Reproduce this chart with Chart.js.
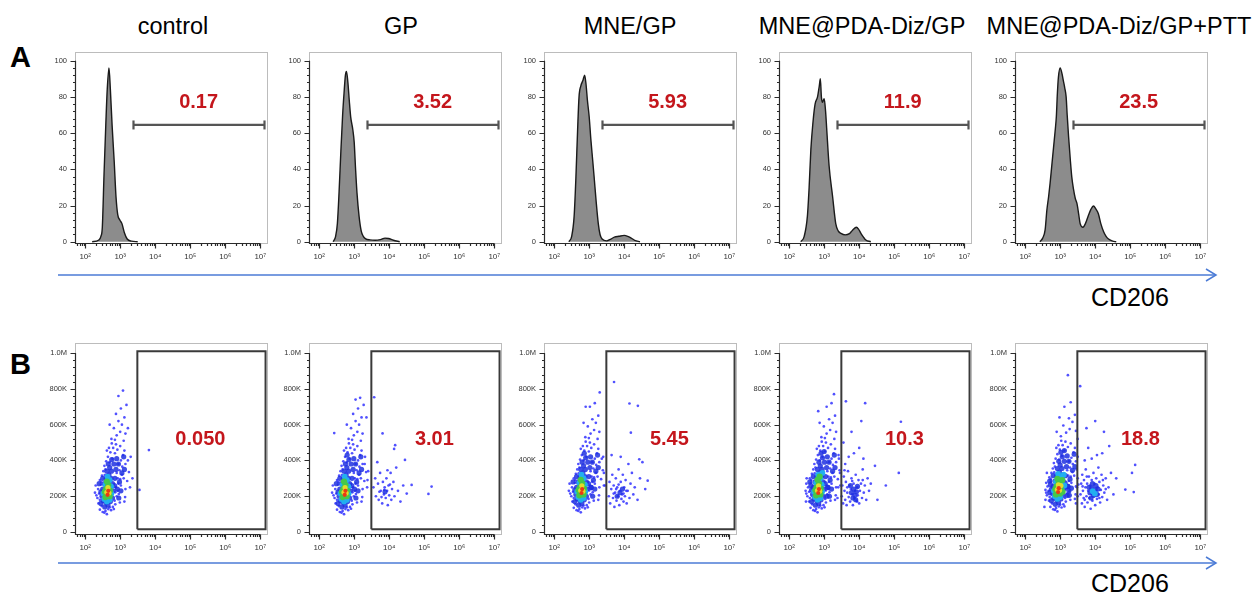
<!DOCTYPE html>
<html>
<head>
<meta charset="utf-8">
<script src="https://cdn.jsdelivr.net/npm/chart.js@4.4.1/dist/chart.umd.min.js"></script>
<style>
  body { margin: 0; background: #fff; width: 1252px; height: 595px; position: relative; overflow: hidden; }
  canvas { position: absolute; }
  svg { position: absolute; left: 0; top: 0; }
</style>
</head>
<body>
<svg id="deco" width="1252" height="595" font-family="Liberation Sans, Arial, sans-serif">
  <text x="10" y="67" font-size="29" font-weight="bold">A</text>
  <text x="10" y="374" font-size="29" font-weight="bold">B</text>
  <line x1="58" y1="275" x2="1215" y2="275" stroke="#4b7bd6" stroke-width="1.5"/>
  <polyline points="1206,269 1216,275 1206,281" fill="none" stroke="#4b7bd6" stroke-width="1.5"/>
  <line x1="58" y1="563" x2="1215" y2="563" stroke="#4b7bd6" stroke-width="1.5"/>
  <polyline points="1206,557 1216,563 1206,569" fill="none" stroke="#4b7bd6" stroke-width="1.5"/>
  <text x="1091" y="306" font-size="25">CD206</text>
  <text x="1091" y="592" font-size="25">CD206</text>
</svg>
<script>
// group names and gate percentages
const groups = ['control', 'GP', 'MNE/GP', 'MNE@PDA-Diz/GP', 'MNE@PDA-Diz/GP+PTT'];
const histGatePct = ['0.17', '3.52', '5.93', '11.9', '23.5'];
const dotGatePct = ['0.050', '3.01', '5.45', '10.3', '18.8'];

// axis ticks: log10 decades for CD206, % of max for histograms, K events for dot plots
const logTicks = [2, 3, 4, 5, 6, 7];
const histTicks = [0, 20, 40, 60, 80, 100];
const dotTicks = [0, 200, 400, 600, 800, 1000];

// gates: [log10 from, log10 to, level] / [log10 from, log10 to, y from, y to]
const histGate = [3.38, 7.12, 64.5];
const dotGate = [3.49, 7.15, 15, 1010];

// histograms: [log10 CD206, % of max]
const histControl = [[2.2,0],[2.38,0.8],[2.45,3],[2.49,8],[2.54,38],[2.59,65],[2.63,84],[2.68,96],[2.72,84],[2.77,64],[2.83,44],[2.88,25],[2.93,15],[2.99,12],[3.05,10],[3.12,5],[3.2,1.5],[3.32,0.3],[3.5,0]];
const histGP = [[2.4,0],[2.47,3],[2.52,10],[2.57,28],[2.62,50],[2.67,70],[2.71,82],[2.75,92],[2.78,94],[2.82,88],[2.86,78],[2.9,69],[2.96,62],[3.0,55],[3.04,40],[3.08,27],[3.14,14],[3.2,6],[3.26,3],[3.33,1.6],[3.45,1],[3.6,0.8],[3.75,1.2],[3.88,2],[3.98,1.8],[4.12,0.8],[4.3,0]];
const histMNE = [[2.42,0],[2.5,3],[2.57,14],[2.62,35],[2.67,62],[2.71,80],[2.76,86],[2.82,89],[2.87,92],[2.91,87],[2.95,78],[3.0,69],[3.05,56],[3.1,45],[3.14,36],[3.2,22],[3.26,10],[3.31,4],[3.37,1.5],[3.5,0.5],[3.62,1.5],[3.72,2.5],[3.85,3],[4.0,3.5],[4.1,3],[4.2,2],[4.3,0.8],[4.45,0]];
const histPDA = [[2.33,0],[2.43,3],[2.52,14],[2.57,30],[2.62,51],[2.68,66],[2.74,76],[2.81,80],[2.86,86],[2.89,90],[2.92,80],[2.95,77],[3.0,79],[3.04,72],[3.07,63],[3.14,42],[3.24,25],[3.33,10],[3.4,6],[3.48,4.6],[3.6,3.8],[3.72,4.5],[3.81,6.4],[3.92,8],[3.98,7],[4.05,4.6],[4.19,1],[4.33,0]];
const histPTT = [[2.42,0],[2.5,2],[2.57,6.5],[2.62,17.5],[2.67,25],[2.71,32],[2.76,42],[2.81,52],[2.86,62],[2.89,69],[2.92,82],[2.95,91],[3.0,96],[3.05,93],[3.09,89],[3.13,85],[3.17,80],[3.2,70],[3.24,58],[3.29,45],[3.33,36],[3.38,29],[3.43,24],[3.48,21],[3.53,15],[3.57,10],[3.65,8],[3.72,10],[3.81,14.7],[3.88,18],[3.95,19.7],[4.02,18],[4.09,15.5],[4.16,10],[4.24,5.5],[4.31,3],[4.38,1.5],[4.5,0.3],[4.6,0]];
const histograms = [histControl, histGP, histMNE, histPDA, histPTT];

// dot plots: [log10 CD206, events (K)], one list per density level and group
const blueDots = [
  [[2.42,125],[2.50,112],[2.58,118],[2.66,128],[2.74,122],[2.47,145],[2.55,108],[2.79,140],[2.38,160],[2.86,155],[2.62,100],[2.70,138],[2.82,128],[2.35,190],[2.40,215],[2.37,240],[2.84,175],[2.90,200],[2.93,230],[2.88,250],[2.45,265],[2.32,205],[2.96,212],[2.86,222],[2.42,180],[2.42,290],[2.48,315],[2.52,340],[2.95,270],[3.0,295],[3.05,320],[2.98,345],[3.10,300],[2.46,280],[2.90,330],[3.02,260],[2.56,318],[2.93,300],[2.55,370],[2.60,395],[2.65,420],[2.72,445],[2.80,470],[2.88,490],[2.95,380],[3.02,400],[3.08,430],[3.12,455],[2.92,460],[2.70,390],[2.78,410],[2.85,440],[3.15,380],[2.62,455],[3.0,480],[2.58,350],[3.06,365],[2.68,470],[2.76,495],[2.75,520],[2.90,540],[3.0,560],[2.82,580],[3.05,600],[2.95,620],[3.12,640],[2.88,660],[3.02,690],[3.18,710],[2.95,760],[3.08,790],[3.15,550],[2.70,600],[3.22,580],[2.85,515],[3.1,510],[3.55,235],[3.82,458],[3.3,420],[3.35,300],
   [3.15,240],[3.2,285],[3.25,335],[3.14,195],[3.28,250],[3.22,400],[2.3,260],[2.28,220],[3.12,170],[2.99,165]],
  [[2.51,125],[2.59,112],[2.67,118],[2.75,128],[2.83,122],[2.56,145],[2.64,108],[2.88,140],[2.47,160],[2.95,155],[2.71,100],[2.79,138],[2.91,130],[2.44,190],[2.49,215],[2.46,240],[2.93,175],[2.99,200],[3.02,230],[2.97,250],[2.54,265],[2.41,205],[3.05,212],[2.95,222],[2.51,180],[2.51,290],[2.57,315],[2.61,340],[3.04,270],[3.09,295],[3.14,320],[3.07,345],[3.19,300],[2.55,280],[2.99,330],[3.11,260],[2.65,318],[3.02,300],[2.64,370],[2.69,395],[2.74,420],[2.81,445],[2.89,470],[2.97,490],[3.04,380],[3.11,400],[3.17,430],[3.21,455],[3.01,460],[2.79,390],[2.87,410],[2.94,440],[3.24,380],[2.71,455],[3.09,480],[2.67,350],[3.15,365],[2.77,470],[2.85,495],[2.84,520],[2.99,540],[3.09,560],[2.91,580],[3.14,600],[3.04,620],[3.21,640],[2.97,660],[3.11,690],[3.27,710],[3.04,740],[3.17,750],[3.24,550],[2.79,600],[2.43,553],[2.94,515],[3.19,510],[3.35,640],[3.3,380],[3.38,290],[3.4,340],
   [3.24,240],[3.29,285],[3.34,335],[3.23,195],[3.37,250],[3.31,420],[2.39,260],[2.37,220],[3.21,170],[3.08,165],
   [3.55,250],[3.6,300],[3.62,200],[3.68,270],[3.7,180],[3.74,330],[3.76,230],[3.8,160],[3.82,280],[3.85,210],[3.87,250],[3.9,190],[3.92,300],[3.94,230],[3.96,150],[3.98,260],[4.0,205],[4.04,330],[4.06,180],[4.08,240],[4.12,280],[4.15,200],[4.2,360],[4.25,230],[4.32,170],[4.4,260],[4.45,403],[4.64,263],[4.14,464],[4.17,485],[3.81,551],[3.57,753],[5.21,254],[5.12,213],[3.66,390],[3.95,345],[4.5,215],[3.72,225],[3.86,235],[4.02,265],[3.78,195]],
  [[2.56,135],[2.64,122],[2.72,128],[2.80,138],[2.88,132],[2.61,155],[2.69,118],[2.93,150],[2.52,170],[3.0,165],[2.76,110],[2.84,148],[2.96,138],[2.49,200],[2.54,225],[2.51,250],[2.98,185],[3.04,210],[3.07,240],[3.02,260],[2.59,275],[2.46,215],[3.10,222],[3.0,232],[2.56,190],[2.56,300],[2.62,325],[2.66,350],[3.09,280],[3.14,305],[3.19,330],[3.12,355],[3.24,310],[2.60,290],[3.04,340],[3.16,270],[2.70,328],[3.07,310],[2.69,380],[2.74,405],[2.79,430],[2.86,455],[2.94,480],[3.02,500],[3.09,390],[3.16,410],[3.22,440],[3.26,465],[3.06,470],[2.84,400],[2.92,420],[2.99,450],[3.29,390],[2.76,465],[3.14,490],[2.72,360],[3.20,375],[2.82,480],[2.90,505],[2.89,530],[3.04,550],[3.14,570],[2.96,590],[3.19,610],[3.09,630],[3.26,650],[3.02,700],[3.16,720],[3.30,780],[2.90,700],[3.29,560],[2.84,610],[2.99,525],[3.24,520],[3.4,420],[3.42,330],[3.45,260],
   [3.29,250],[3.34,295],[3.39,345],[3.28,205],[3.42,260],[3.36,410],[2.44,270],[2.42,230],[3.26,180],[3.13,175],
   [3.56,200],[3.58,280],[3.6,160],[3.63,240],[3.66,320],[3.68,190],[3.7,260],[3.72,140],[3.74,220],[3.76,300],[3.78,175],[3.8,250],[3.82,200],[3.84,350],[3.86,150],[3.88,230],[3.9,280],[3.92,185],[3.94,210],[3.96,320],[3.98,170],[4.0,250],[4.02,200],[4.04,290],[4.07,160],[4.1,230],[4.12,380],[4.15,190],[4.18,270],[4.22,330],[4.26,210],[4.3,250],[4.38,180],[4.45,300],[4.52,390],[4.6,240],[4.67,287],[4.15,718],[4.39,705],[3.71,838],[3.64,430],[4.19,555],[4.43,406],[3.9,420],[3.7,215],[3.84,265],[3.98,215],[4.06,230],[3.77,240]],
  [[2.61,135],[2.69,122],[2.77,128],[2.85,138],[2.93,132],[2.66,155],[2.74,118],[2.98,150],[2.57,170],[3.05,165],[2.81,110],[2.89,148],[3.01,138],[2.52,200],[2.57,225],[2.54,250],[3.03,185],[3.09,210],[3.12,240],[3.07,260],[2.62,275],[2.49,215],[3.15,222],[3.05,232],[2.59,190],[2.59,300],[2.65,325],[2.69,350],[3.14,280],[3.19,305],[3.24,330],[3.17,355],[3.29,310],[2.63,290],[3.09,340],[3.21,270],[2.73,328],[3.12,310],[2.72,380],[2.77,405],[2.82,430],[2.89,455],[2.97,480],[3.05,500],[3.14,390],[3.21,410],[3.27,440],[3.31,465],[3.11,470],[2.87,400],[2.95,420],[3.02,450],[3.34,390],[2.79,465],[3.19,490],[2.75,360],[3.25,375],[2.85,480],[2.93,505],[2.92,530],[3.07,550],[3.17,570],[2.99,590],[3.24,610],[3.14,630],[3.31,650],[3.07,700],[3.21,720],[3.28,770],[2.83,675],[3.34,560],[2.87,610],[3.02,525],[3.29,520],[3.42,410],[3.45,330],[3.4,250],[3.38,190],[2.5,300],[2.48,170],
   [3.34,250],[3.39,295],[3.44,345],[3.33,205],[3.46,260],[3.41,430],[2.49,270],[2.47,230],[3.31,180],[3.18,175],
   [3.5,200],[3.52,260],[3.54,160],[3.56,310],[3.58,230],[3.6,180],[3.62,280],[3.64,150],[3.66,220],[3.68,340],[3.7,195],[3.72,260],[3.74,170],[3.76,240],[3.78,300],[3.8,210],[3.82,150],[3.84,270],[3.86,190],[3.88,230],[3.9,320],[3.92,175],[3.94,250],[3.96,205],[3.98,290],[4.0,160],[4.02,230],[4.05,270],[4.08,190],[4.1,350],[4.13,220],[4.16,260],[4.2,180],[4.24,300],[4.28,230],[4.33,270],[3.7,420],[3.85,440],[4.0,470],[3.6,380],[4.12,410],[3.62,730],[4.17,720],[3.78,560],[4.06,620],[4.76,260],[5.13,330],[5.19,616],[4.52,180],[4.45,370],[3.55,500],[3.66,250],[3.8,285],[3.94,170],[4.1,290],[3.58,345]],
  [[2.72,140],[2.80,127],[2.88,133],[2.96,143],[3.04,137],[2.77,160],[2.85,123],[3.09,155],[2.68,175],[3.16,170],[2.92,115],[3.0,153],[3.12,143],[2.62,205],[2.67,230],[2.64,255],[3.14,190],[3.2,215],[3.23,245],[3.18,265],[2.73,280],[2.6,220],[3.26,227],[3.16,237],[2.7,195],[2.69,305],[2.75,330],[2.79,355],[3.25,285],[3.3,310],[3.35,335],[3.28,360],[3.4,315],[2.73,295],[3.2,345],[3.32,275],[2.83,333],[3.23,315],[2.82,385],[2.87,410],[2.92,435],[2.99,460],[3.07,485],[3.15,505],[3.25,395],[3.32,415],[3.38,445],[3.42,470],[3.22,475],[2.97,405],[3.05,425],[3.12,455],[3.45,395],[2.89,470],[3.3,495],[2.85,365],[3.36,380],[2.95,485],[3.03,510],[3.02,535],[3.17,555],[3.27,575],[3.09,595],[3.35,615],[3.25,635],[3.42,655],[3.12,700],[3.3,725],[3.22,876],[3.57,815],[2.98,640],[3.45,565],[3.5,520],[2.58,180],[2.55,140],[2.62,330],[3.48,250],[3.5,200],[3.45,160],[2.9,560],
   [3.45,255],[3.5,300],[3.47,350],[3.44,210],[3.52,265],[3.5,420],[2.6,275],[2.58,235],[3.42,185],[3.29,180],
   [3.58,210],[3.6,270],[3.62,160],[3.63,320],[3.65,230],[3.67,190],[3.68,290],[3.7,140],[3.72,250],[3.73,350],[3.75,200],[3.77,270],[3.78,165],[3.8,230],[3.82,310],[3.83,190],[3.85,260],[3.87,130],[3.88,215],[3.9,290],[3.92,175],[3.93,240],[3.95,330],[3.97,200],[3.98,270],[4.0,150],[4.02,225],[4.03,300],[4.05,185],[4.07,250],[4.09,360],[4.1,210],[4.12,280],[4.14,165],[4.16,235],[4.18,320],[4.2,195],[4.23,260],[4.26,220],[4.3,300],[4.34,180],[4.38,250],[4.45,330],[4.52,210],[3.7,400],[3.9,410],[4.05,430],[3.8,470],[4.2,440],[3.75,580],[4.0,620],[4.25,560],[4.4,480],[4.86,237],[5.05,330],[5.1,223],[5.14,375],[4.6,300],[3.64,255],[3.76,310],[4.12,190],[4.22,290],[3.7,180],[4.3,240]]
];
const denseDots = [
  [[2.45,160],[2.52,175],[2.60,165],[2.72,170],[2.78,190],[2.80,230],[2.78,270],[2.74,300],[2.68,320],[2.60,300],[2.55,270],[2.50,240],[2.48,200],[2.62,340],[2.75,340],[2.85,300],[2.70,360],[2.82,380],[2.65,150],[2.56,140],[2.84,260],[2.50,300],[2.66,380],[2.76,405],[2.88,350],
   [2.92,240],[2.98,280],[3.05,330],[2.95,380],[3.1,420],[2.9,410],[3.02,230],[3.12,350],[2.96,190],[2.45,225],[2.4,270]],
  [[2.54,160],[2.61,175],[2.69,165],[2.81,170],[2.87,190],[2.89,230],[2.87,270],[2.83,300],[2.77,320],[2.69,300],[2.64,270],[2.59,240],[2.57,200],[2.71,340],[2.84,340],[2.94,300],[2.79,360],[2.91,380],[2.74,150],[2.65,140],[2.93,260],[2.59,300],[2.75,380],[2.85,405],[2.97,350],[2.80,430],[3.88,225],
   [3.01,240],[3.07,280],[3.14,330],[3.04,380],[3.19,420],[2.99,410],[3.11,230],[3.21,350],[3.05,190],[2.54,225],[2.49,270]],
  [[2.59,170],[2.66,185],[2.74,175],[2.86,180],[2.92,200],[2.94,240],[2.92,280],[2.88,310],[2.82,330],[2.74,310],[2.69,280],[2.64,250],[2.62,210],[2.76,350],[2.89,350],[2.99,310],[2.84,370],[2.96,390],[2.79,160],[2.70,150],[2.98,270],[2.64,310],[2.80,390],[2.90,415],[3.02,360],[2.86,440],[3.05,250],[3.88,220],[3.95,240],[3.8,200],
   [3.06,250],[3.12,290],[3.19,340],[3.09,390],[3.24,430],[3.04,420],[3.16,240],[3.26,360],[3.1,200],[2.59,235],[2.54,280]],
  [[2.64,170],[2.71,185],[2.79,175],[2.91,180],[2.97,200],[2.99,240],[2.97,280],[2.93,310],[2.87,330],[2.79,310],[2.74,280],[2.69,250],[2.67,210],[2.81,350],[2.94,350],[3.04,310],[2.89,370],[3.01,390],[2.84,160],[2.75,150],[3.03,270],[2.69,310],[2.85,390],[2.95,415],[3.07,360],[2.91,440],[3.1,250],[3.08,200],[2.62,260],[3.0,450],[3.78,220],[3.84,240],[3.88,205],[3.92,225],[3.82,190],[3.95,255],[3.75,260],[3.9,180],
   [3.11,250],[3.17,290],[3.24,340],[3.14,390],[3.29,430],[3.09,420],[3.21,240],[3.31,360],[3.15,200],[2.64,235],[2.59,280]],
  [[2.75,175],[2.82,190],[2.9,180],[3.02,185],[3.08,205],[3.1,245],[3.08,285],[3.04,315],[2.98,335],[2.9,315],[2.85,285],[2.8,255],[2.78,215],[2.92,355],[3.05,355],[3.15,315],[3.0,375],[3.12,395],[2.95,165],[2.86,155],[3.14,275],[2.8,315],[2.96,395],[3.06,420],[3.18,365],[3.02,445],[3.22,255],[3.2,205],[2.72,265],[3.12,455],[3.25,230],[2.7,220],[3.85,220],[3.9,245],[3.95,205],[4.0,235],[3.92,270],[4.05,210],[3.88,190],[4.02,260],[3.98,225],[4.08,240],[3.82,250],
   [3.22,255],[3.28,295],[3.35,345],[3.25,395],[3.4,435],[3.2,425],[3.32,245],[3.42,365],[3.26,205],[2.75,240],[2.7,285]]
];
const cyanDots = [
  [[2.55,185],[2.70,180],[2.75,215],[2.74,255],[2.70,290],[2.58,265],[2.52,215],[2.64,310],[2.62,170]],
  [[2.64,185],[2.79,180],[2.84,215],[2.83,255],[2.79,290],[2.67,265],[2.61,215],[2.73,310],[2.71,170]],
  [[2.69,195],[2.84,190],[2.89,225],[2.88,265],[2.84,300],[2.72,275],[2.66,225],[2.78,320],[2.76,180]],
  [[2.74,195],[2.89,190],[2.94,225],[2.93,265],[2.89,300],[2.77,275],[2.71,225],[2.83,320],[2.81,180],[2.95,330]],
  [[2.85,200],[3.0,195],[3.05,230],[3.04,270],[3.0,305],[2.88,280],[2.82,230],[2.94,325],[2.92,185],[3.1,320],[3.12,260],[3.93,228],[3.99,215]]
];
const greenDots = [
  [[2.58,195],[2.64,205],[2.70,200],[2.60,240],[2.66,262],[2.71,232],[2.62,282],[2.56,225]],
  [[2.67,195],[2.73,205],[2.79,200],[2.69,240],[2.75,262],[2.80,232],[2.71,282],[2.65,225]],
  [[2.72,205],[2.78,215],[2.84,210],[2.74,250],[2.80,272],[2.85,242],[2.76,292],[2.70,235]],
  [[2.77,205],[2.83,215],[2.89,210],[2.79,250],[2.85,272],[2.90,242],[2.81,292],[2.75,235],[2.87,310]],
  [[2.88,210],[2.94,220],[3.0,215],[2.9,255],[2.96,277],[3.01,247],[2.92,297],[2.86,240],[3.06,290],[3.07,225]]
];
const yellowDots = [
  [[2.62,222],[2.68,218],[2.65,248]],
  [[2.71,222],[2.77,218],[2.74,248]],
  [[2.76,232],[2.82,228],[2.79,258]],
  [[2.81,232],[2.87,228],[2.84,258]],
  [[2.92,237],[2.98,233],[2.95,263],[3.02,260]]
];
const redDots = [
  [[2.64,208],[2.66,230]],
  [[2.73,208],[2.75,230]],
  [[2.78,218],[2.80,240]],
  [[2.83,218],[2.85,240]],
  [[2.94,223],[2.96,245]]
];

// ---- layout / style ----
const panelLeft = [75, 309, 544, 779, 1015];
const titleCenter = [173, 401, 630, 862, 1119];
const rowTop = [52, 343];
const PAD_TOP = 14, Y_W = 38, X_H = 22, PAD_R = 10, AREA_W = 193, AREA_H = 191;
const X_MIN = Math.pow(10, 1.71), X_MAX = Math.pow(10, 7.22);
const sup = { 2: '\u00b2', 3: '\u00b3', 4: '\u2074', 5: '\u2075', 6: '\u2076', 7: '\u2077' };
const dotLayers = [
  { pts: redDots, color: '#ea3a14', r: 2.1 },
  { pts: yellowDots, color: '#e2dc2a', r: 2.6 },
  { pts: greenDots, color: '#46c84a', r: 3.1 },
  { pts: cyanDots, color: '#22aef0', r: 2.9 },
  { pts: denseDots, color: 'rgba(30,48,225,0.85)', r: 2.6 },
  { pts: blueDots, color: 'rgba(50,50,255,0.85)', r: 1.35 }
];

Chart.defaults.font.family = '"Liberation Sans", Arial, sans-serif';

const toXY = pts => pts.map(p => ({ x: Math.pow(10, p[0]), y: p[1] }));

// FlowJo-like frame, axis lines, major/minor ticks and the gate percentage
const flowAxes = {
  id: 'flowAxes',
  beforeDatasetsDraw(chart) {
    const a = chart.chartArea, ctx = chart.ctx;
    ctx.save();
    ctx.strokeStyle = '#bcbcbc';
    ctx.lineWidth = 1;
    ctx.strokeRect(a.left + 0.5, a.top + 0.5, a.width - 1, a.height);
    ctx.restore();
  },
  afterDatasetsDraw(chart, args, o) {
    const { ctx, chartArea: a, scales: { x, y } } = chart;
    ctx.save();
    ctx.strokeStyle = '#2a2a2a';
    ctx.lineWidth = 1.2;
    const x0 = a.left + 0.5, yb = a.bottom + 0.5;
    ctx.beginPath();
    ctx.moveTo(x0, y.getPixelForValue(o.yMax));
    ctx.lineTo(x0, yb);
    ctx.lineTo(x.getPixelForValue(1e7), yb);
    for (let v = 0; v <= o.yMax; v += o.yMinor) {
      const py = Math.round(y.getPixelForValue(v)) + 0.5;
      const len = v % o.yMajor === 0 ? 5 : 2.5;
      ctx.moveTo(x0 - len, py);
      ctx.lineTo(x0, py);
    }
    for (let d = 1; d <= 7; d++) {
      for (let k = 1; k <= 9; k++) {
        const v = k * Math.pow(10, d);
        if (v < x.min || v > x.max || (d === 7 && k > 1)) continue;
        const px = Math.round(x.getPixelForValue(v)) + 0.5;
        ctx.moveTo(px, yb);
        ctx.lineTo(px, yb + (k === 1 ? 5 : 2.5));
      }
    }
    ctx.stroke();
    ctx.fillStyle = '#c4161c';
    ctx.font = 'bold 20px "Liberation Sans", Arial, sans-serif';
    ctx.textAlign = 'center';
    ctx.textBaseline = 'middle';
    ctx.fillText(o.label, x.getPixelForValue(Math.pow(10, o.labelAt[0])), y.getPixelForValue(o.labelAt[1]));
    ctx.restore();
  }
};

function scalesFor(yMin, yMax, yTicks, yLabel) {
  return {
    x: {
      type: 'logarithmic', min: X_MIN, max: X_MAX,
      afterBuildTicks: s => { s.ticks = logTicks.map(p => ({ value: Math.pow(10, p) })); },
      afterFit: s => { s.height = X_H; },
      grid: { display: false, drawTicks: false }, border: { display: false },
      ticks: { padding: 9, autoSkip: false, maxRotation: 0, color: '#333', font: { size: 8 },
        callback: v => '10' + sup[Math.round(Math.log10(v))] }
    },
    y: {
      type: 'linear', min: yMin, max: yMax,
      afterBuildTicks: s => { s.ticks = yTicks.map(v => ({ value: v })); },
      afterFit: s => { s.width = Y_W; },
      grid: { display: false, drawTicks: false }, border: { display: false },
      ticks: { padding: 8, color: '#333', font: { size: 7.5 }, callback: yLabel }
    }
  };
}

function addCanvas(i, row) {
  const c = document.createElement('canvas');
  c.width = Y_W + AREA_W + PAD_R;
  c.height = PAD_TOP + AREA_H + X_H;
  c.style.left = (panelLeft[i] - Y_W) + 'px';
  c.style.top = (rowTop[row] - PAD_TOP) + 'px';
  document.body.appendChild(c);
  return c;
}

const baseOptions = {
  responsive: false, animation: false, devicePixelRatio: 1,
  layout: { padding: { top: PAD_TOP, right: PAD_R, left: 0, bottom: 0 } }
};

// group titles
const deco = document.getElementById('deco');
groups.forEach((g, i) => {
  const t = document.createElementNS('http://www.w3.org/2000/svg', 'text');
  t.setAttribute('x', titleCenter[i]);
  t.setAttribute('y', 34);
  t.setAttribute('font-size', 23.5);
  t.setAttribute('text-anchor', 'middle');
  t.textContent = g;
  deco.appendChild(t);
});

groups.forEach((g, i) => {
  // row A: histograms
  new Chart(addCanvas(i, 0), {
    type: 'line',
    data: {
      datasets: [
        { data: toXY([[histGate[0], histGate[2]], [histGate[1], histGate[2]]]),
          borderColor: '#555', borderWidth: 2.2, fill: false,
          pointStyle: 'line', rotation: 90, pointRadius: 4.5, pointBorderWidth: 2.2, pointBorderColor: '#555' },
        { data: toXY(histograms[i]), borderColor: '#1a1a1a', borderWidth: 1.4,
          backgroundColor: '#8c8c8c', fill: 'origin', pointRadius: 0, cubicInterpolationMode: 'monotone' }
      ]
    },
    options: Object.assign({}, baseOptions, {
      scales: scalesFor(-0.7, 104.8, histTicks, v => String(v)),
      plugins: { legend: { display: false }, tooltip: { enabled: false },
        flowAxes: { yMax: 100, yMajor: 20, yMinor: 4, label: histGatePct[i], labelAt: [5.24, 77] } }
    }),
    plugins: [flowAxes]
  });

  // row B: dot plots
  const rect = [[dotGate[0], dotGate[2]], [dotGate[0], dotGate[3]], [dotGate[1], dotGate[3]], [dotGate[1], dotGate[2]], [dotGate[0], dotGate[2]]];
  const sets = [{ data: toXY(rect), showLine: true, borderColor: '#3a3a3a', borderWidth: 2, pointRadius: 0, fill: false }];
  dotLayers.forEach(l => sets.push({
    data: toXY(l.pts[i]), backgroundColor: l.color, pointRadius: l.r, pointBorderWidth: 0
  }));
  new Chart(addCanvas(i, 1), {
    type: 'scatter',
    data: { datasets: sets },
    options: Object.assign({}, baseOptions, {
      scales: scalesFor(-11, 1056, dotTicks, v => v === 0 ? '0' : v >= 1000 ? (v / 1000).toFixed(1) + 'M' : v + 'K'),
      plugins: { legend: { display: false }, tooltip: { enabled: false },
        flowAxes: { yMax: 1000, yMajor: 200, yMinor: 40, label: dotGatePct[i], labelAt: [5.29, 515] } }
    }),
    plugins: [flowAxes]
  });
});
</script>
</body>
</html>
